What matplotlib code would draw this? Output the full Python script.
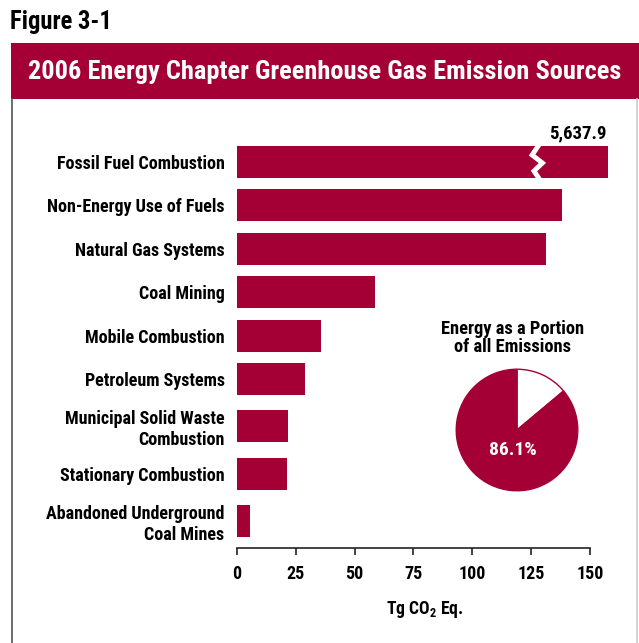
import matplotlib
matplotlib.use("Agg")
import matplotlib.pyplot as plt
from matplotlib.patches import Rectangle
from matplotlib.lines import Line2D

plt.rcParams['font.family'] = ['Roboto Condensed', 'DejaVu Sans']
plt.rcParams['font.weight'] = 'bold'
plt.rcParams['mathtext.fontset'] = 'custom'
plt.rcParams['mathtext.rm'] = 'Roboto Condensed:bold'
plt.rcParams['mathtext.bf'] = 'Roboto Condensed:bold'

RED = '#A40035'
W, H = 639, 643

# emission sources, Tg CO2 Eq.
sources = ["Fossil Fuel Combustion", "Non-Energy Use of Fuels", "Natural Gas Systems",
           "Coal Mining", "Mobile Combustion", "Petroleum Systems",
           "Municipal Solid Waste\nCombustion", "Stationary Combustion",
           "Abandoned Underground\nCoal Mines"]
emissions = [5637.9, 138.0, 131.3, 58.5, 35.7, 28.9, 21.7, 21.2, 5.5]
# fossil fuel bar is cut and drawn at this length
broken_len = 157.7
axis_ticks = [0, 25, 50, 75, 100, 125, 150]

energy_share = 86.1

# row centres in pixels from the top (two-line labels get a bit more room)
row_y = [162, 205, 249, 292, 336, 379, 426, 474, 521]

fig = plt.figure(figsize=(W / 100, H / 100), dpi=100)

# header
fig.text(10/W, 1-22/H, "Figure 3-1", fontsize=17.7, fontweight='bold', va='center', ha='left')
fig.patches.append(Rectangle((11/W, 1-99/H), 628/W, 56/H, transform=fig.transFigure,
                             facecolor=RED, edgecolor='none'))
fig.text(325/W, 1-72/H, "2006 Energy Chapter Greenhouse Gas Emission Sources",
         fontsize=19, color='white', fontweight='bold', ha='center', va='center')
# frame lines
fig.lines.append(Line2D([11.5/W, 11.5/W], [0, 1-99/H], transform=fig.transFigure,
                        color='#555555', lw=1.2))
fig.lines.append(Line2D([636.5/W, 636.5/W], [0, 1-99/H], transform=fig.transFigure,
                        color='#cccccc', lw=1.2))

# bar axes: y runs in pixels from the top of the figure
ax_top, ax_bot = 130, 548
ax = fig.add_axes([237/W, 1-ax_bot/H, 376.5/W, (ax_bot-ax_top)/H])
lengths = [broken_len if v > 150 else v for v in emissions]
ax.barh(row_y, lengths, height=32, color=RED)
ax.set_xlim(0, 160)
ax.set_ylim(ax_bot, ax_top)
ax.set_yticks(row_y)
ax.set_yticklabels(sources, fontsize=13, fontweight='bold', linespacing=1.2)
ax.tick_params(axis='y', length=0, pad=9)
ax.set_xticks(axis_ticks)
ax.set_xticklabels([str(t) for t in axis_ticks], fontsize=13, fontweight='bold')
ax.tick_params(axis='x', length=5, width=1.2, pad=7, color='#222222')
for s in ['top', 'right', 'left']:
    ax.spines[s].set_visible(False)
ax.spines['bottom'].set_bounds(0, 150)
ax.spines['bottom'].set_linewidth(1.2)
ax.spines['bottom'].set_color('#222222')
ax.set_xlabel("Tg CO$_2$ Eq.", fontsize=12.7, fontweight='bold', labelpad=12)

# break mark on the fossil fuel bar
y0 = row_y[0]
bx = [128.0, 125.4, 129.8, 126.2, 128.2]
by = [y0 - 16, y0 - 7, y0 + 1, y0 + 9, y0 + 16]
ax.plot(bx, by, color='white', lw=3.5, solid_joinstyle='miter')
ax.text(broken_len - 0.8, y0 - 20, f"{emissions[0]:,.1f}", ha='right', va='bottom',
        fontsize=13.5, fontweight='bold')

# pie inset
pax = fig.add_axes([455/W, 1-492/H, 124/W, 124/H])
pax.pie([100 - energy_share, energy_share], colors=['white', RED], startangle=90,
        counterclock=False, radius=1,
        wedgeprops=dict(edgecolor=RED, linewidth=1))
pax.set_xlim(-1.02, 1.02)
pax.set_ylim(-1.02, 1.02)
pax.set_aspect('equal')
pax.text(-0.06, -0.33, f"{energy_share}%", color='white', fontsize=14,
         fontweight='bold', ha='center', va='center')
fig.text(513/W, 1-338/H, "Energy as a Portion\nof all Emissions", ha='center',
         va='center', fontsize=13.3, fontweight='bold', linespacing=1.05)

fig.savefig("out.png", dpi=100)
